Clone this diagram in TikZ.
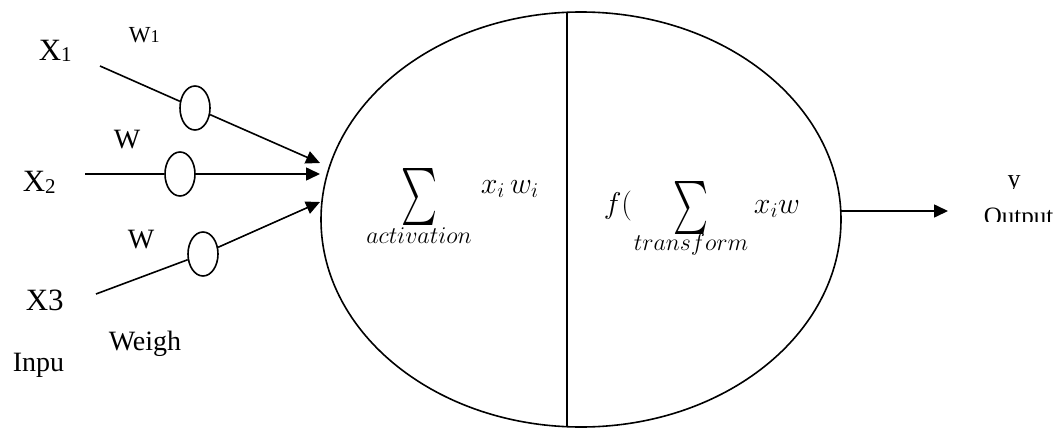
\RequirePackage{fix-cm}
\documentclass[tikz,border=0pt]{standalone}
\usepackage{fontspec}
\setmainfont{Liberation Serif}
\usepackage{amsmath}
\usepackage{graphicx}
\usetikzlibrary{shapes.geometric,arrows.meta}

\begin{document}
\begin{tikzpicture}[x=1pt,y=-1pt,line width=1.6pt]
	    \tikzstyle{weight}=[draw,shape=ellipse,minimum width=30pt,minimum height=44pt,inner sep=0pt]
	    \tikzstyle{neuron}=[draw,shape=ellipse,minimum width=520pt,minimum height=415pt,inner sep=0pt]
	    \tikzstyle{lbl}=[inner sep=0pt,font=\fontsize{31}{32}\selectfont]
	    \tikzstyle{sml}=[inner sep=0pt,font=\fontsize{28}{29}\selectfont]
	    \tikzstyle{eqn}=[inner sep=0pt,font=\fontsize{30}{32}\selectfont]
	    \tikzstyle{lim}=[inner sep=0pt,font=\fontsize{24}{26}\selectfont]
	    \tikzstyle{into}=[-{Triangle[length=14pt,width=13pt]}]

	    \useasboundingbox (0,0) rectangle (1062,428);

	    \node[neuron](n) at (581,219.5){};
	    \draw (567,12) -- (567,427);

	    \node[lbl,anchor=base west](x1) at (38,60){X\raisebox{-1pt}{\fontsize{21}{21}\selectfont 1}};
	    \node[lbl,anchor=base west](x2) at (22,191){X\raisebox{-2pt}{\fontsize{21}{21}\selectfont 2}};
	    \node[lbl,anchor=base west](x3) at (25,310){X3};
	    \node[sml,anchor=base west](inp) at (12,371){Inpu};

	    \node[inner sep=0pt,font=\fontsize{23}{24}\selectfont,anchor=base west](lw1) at (128,43){W\fontsize{18}{18}\selectfont 1};
	    \node[sml,anchor=base west](lw2) at (113,148){W};
	    \node[sml,anchor=base west](lw3) at (127,248){W};
	    \node[sml,anchor=base west](wgh) at (108,350){Weigh};

	    \coordinate (s1) at (100,66);
	    \coordinate (s2) at (85,174);
	    \coordinate (s3) at (96,294);
	    \node[weight](w1) at (195,108){};
	    \node[weight](w2) at (180,174){};
	    \node[weight](w3) at (203,254){};
	    \coordinate (e1) at (320,163);
	    \coordinate (e2) at (320,174);
	    \coordinate (e3) at (320,202);

	    \draw[-] (s1) -- (w1);
	    \draw[-] (s2) -- (w2);
	    \draw[-] (s3) -- (w3);
	    \draw[into] (w1) -- (e1);
	    \draw[into] (w2) -- (e2);
	    \draw[into] (w3) -- (e3);

	    \node[inner sep=0pt](sum1) at (419,196.5){\resizebox*{36pt}{57pt}{$\sum$}};
	    \node[lim,anchor=base](act) at (419,243){$activation$};
	    \node[eqn,anchor=base west](xw1) at (480,193){$x_i\,w_i$};

	    \node[eqn,anchor=base west](fo) at (603,213){$f($};
	    \node[inner sep=0pt](sum2) at (690.5,207.5){\resizebox*{35pt}{53pt}{$\sum$}};
	    \node[lim,anchor=base](trf) at (691,250){$transform$};
	    \node[eqn,anchor=base west](xw2) at (753,213){$x_iw$};

	    \coordinate (o1) at (841,211);
	    \coordinate (o2) at (948,211);
	    \draw[into] (o1) -- (o2);

	    \begin{scope}
	    \clip (960,160) rectangle (1062,188) (960,200) rectangle (1062,221);
	    \node[inner sep=0pt,font=\fontsize{26}{26}\selectfont,anchor=base](y) at (1014,187){y};
	    \node[inner sep=0pt,font=\fontsize{25}{26}\selectfont,anchor=base west](out) at (983,224){Output};
	    \end{scope}
	\end{tikzpicture}
\end{document}
